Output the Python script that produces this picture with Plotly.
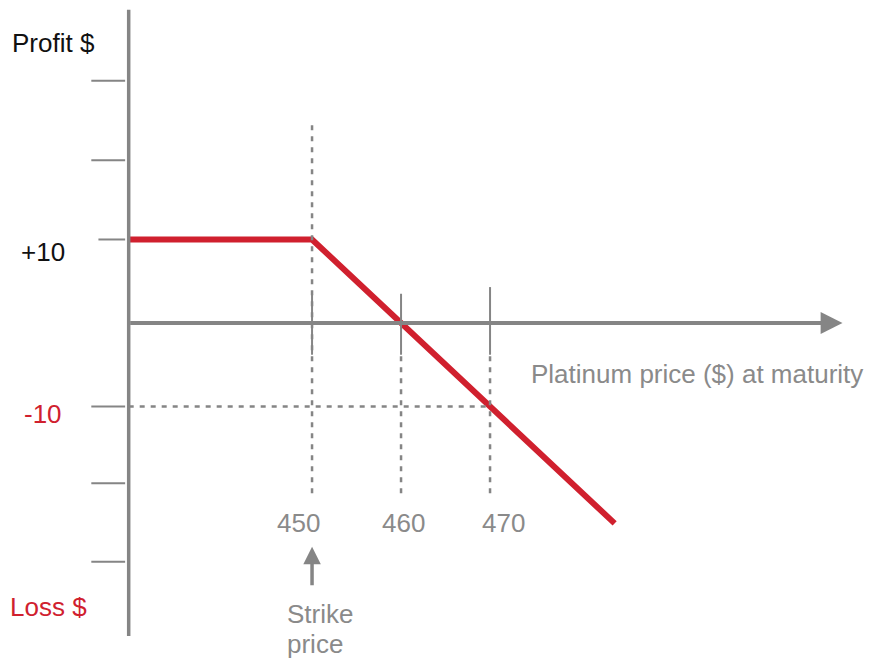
import plotly.graph_objects as go

# ---- data ----
price_points = [429.4, 450, 484]      # platinum price at maturity ($)
profit_points = [10, 10, -24]          # profit ($)
strike = 450
x_ticks = [450, 460, 470]
x_tick_labels = ["450", "460", "470"]
x_tick_label_shift = [-14, 2, 13]
y_tick_vals = [29.0, 19.5, 10, -10, -19.2, -28.6]
y_labels = ["+10", "-10"]
y_label_vals = [10, -10]

# ---- styling ----
RED = "#D0202E"
GRAY = "#858585"
TEXT_GRAY = "#8A8A8A"
FONT = "Liberation Sans, Arial, sans-serif"
FS = 26

# axis geometry (data units)
X_RANGE = [414.94, 512.58]
Y_RANGE = [-40.24, 38.68]
x0_axis = price_points[0]
x_axis_end = 509.6
y_axis_top, y_axis_bottom = 37.5, -37.5

fig = go.Figure()

shapes = []
# vertical (profit) axis
shapes.append(dict(type="line", xref="x", yref="y", x0=x0_axis, x1=x0_axis,
                   y0=y_axis_bottom, y1=y_axis_top,
                   line=dict(color=GRAY, width=3.5)))
# y tick marks
for v in y_tick_vals:
    start = 426.0 if v == 10 else 425.2
    shapes.append(dict(type="line", xref="x", yref="y", x0=start, x1=429.0,
                       y0=v, y1=v, line=dict(color=GRAY, width=2)))
# dashed guides
dash = dict(color=GRAY, width=2.5, dash="5px,6px")
shapes.append(dict(type="line", xref="x", yref="y", x0=strike, x1=strike,
                   y0=-20.4, y1=24.0, line=dash))
for t in x_ticks[1:]:
    shapes.append(dict(type="line", xref="x", yref="y", x0=t, x1=t,
                       y0=-20.4, y1=-3.8, line=dash))
shapes.append(dict(type="line", xref="x", yref="y", x0=x0_axis, x1=x_ticks[-1],
                   y0=-10, y1=-10, line=dash))
# solid x tick marks
for i, t in enumerate(x_ticks):
    top = 4.3 if i == 2 else 3.5
    shapes.append(dict(type="line", xref="x", yref="y", x0=t, x1=t,
                       y0=-3.8, y1=top, line=dict(color=GRAY, width=2)))

# payoff line
fig.add_trace(go.Scatter(x=price_points, y=profit_points, mode="lines",
                         line=dict(color=RED, width=6), hoverinfo="skip"))

annotations = []
# horizontal axis with arrow
annotations.append(dict(x=x_axis_end, y=0, ax=x0_axis, ay=0, xref="x", yref="y",
                        axref="x", ayref="y", showarrow=True, arrowhead=2,
                        arrowsize=1.15, arrowwidth=3.8, arrowcolor=GRAY, text=""))
# strike arrow
annotations.append(dict(x=strike, y=-26.8, ax=strike, ay=-31.6, xref="x", yref="y",
                        axref="x", ayref="y", showarrow=True, arrowhead=2,
                        arrowsize=1.0, arrowwidth=3.5, arrowcolor=GRAY, text=""))
# x tick labels
for t, lab, sh in zip(x_ticks, x_tick_labels, x_tick_label_shift):
    annotations.append(dict(x=t, y=-24.0, xref="x", yref="y", text=lab,
                            showarrow=False, xshift=sh,
                            font=dict(family=FONT, size=FS, color=TEXT_GRAY)))
# y labels
y_label_colors = ["#111111", RED]
y_label_shift = [-13, -8]
for lab, v, c, sh in zip(y_labels, y_label_vals, y_label_colors, y_label_shift):
    annotations.append(dict(x=419.8, y=v, xref="x", yref="y", text=lab,
                            showarrow=False, yshift=sh,
                            font=dict(family=FONT, size=FS, color=c)))
annotations.append(dict(x=421.0, y=33.5, xref="x", yref="y", text="Profit $",
                        showarrow=False, font=dict(family=FONT, size=FS, color="#111111")))
annotations.append(dict(x=420.4, y=-34.0, xref="x", yref="y", text="Loss $",
                        showarrow=False, font=dict(family=FONT, size=FS, color=RED)))
annotations.append(dict(x=493.3, y=-6.1, xref="x", yref="y",
                        text="Platinum price ($) at maturity",
                        showarrow=False, font=dict(family=FONT, size=FS, color=TEXT_GRAY)))
annotations.append(dict(x=447.0, y=-34.8, xref="x", yref="y", text="Strike",
                        xanchor="left", showarrow=False,
                        font=dict(family=FONT, size=FS, color=TEXT_GRAY)))
annotations.append(dict(x=447.0, y=-38.4, xref="x", yref="y", text="price",
                        xanchor="left", showarrow=False,
                        font=dict(family=FONT, size=FS, color=TEXT_GRAY)))

fig.update_layout(
    width=869, height=659,
    margin=dict(l=0, r=0, t=0, b=0),
    paper_bgcolor="white", plot_bgcolor="white",
    showlegend=False,
    xaxis=dict(range=X_RANGE, visible=False, fixedrange=True),
    yaxis=dict(range=Y_RANGE, visible=False, fixedrange=True),
    shapes=shapes,
    annotations=annotations,
)

fig.write_html(
    "out.html",
    config={"displayModeBar": False},
    post_script="document.body.style.margin='0px';document.body.style.overflow='hidden';",
)
